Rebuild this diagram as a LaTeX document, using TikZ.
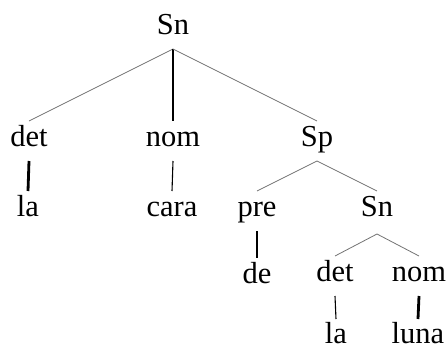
\documentclass[tikz,border=0pt]{standalone}
\usepackage{fontspec}
\setmainfont{Liberation Serif}
\begin{document}
\begin{tikzpicture}[x=1pt,y=-1pt,
  cat/.style={anchor=base,inner sep=0pt,outer sep=0pt,
    text height=25pt,text depth=15pt,
    font=\fontsize{30.5}{36}\selectfont},
  leaf/.style={cat,text depth=0pt},
  branch/.style={draw=black!55,line width=0.8pt},
  stem/.style={draw=black,line width=1.1pt},
  boldstem/.style={draw=black,line width=2.8pt}]
\useasboundingbox (0,0) rectangle (448,351);
% root
\node[cat] (sn) at (173,34) {Sn};
% first level
\node[cat] (det1) at (29,146) {det};
\node[cat] (nom1) at (173,146) {nom};
\node[cat] (sp) at (317,146) {Sp};
% second level
\node[cat] (la1) at (28,216) {la};
\node[cat] (cara) at (172,216) {cara};
\node[cat] (pre) at (257,216) {pre};
\node[cat] (sn2) at (377,216) {Sn};
% third level
\node[cat] (de) at (257,283) {de};
\node[cat] (det2) at (335,281) {det};
\node[cat] (nom2) at (419,281) {nom};
% leaves
\node[leaf] (la2) at (336,343) {la};
\node[leaf] (luna) at (418,343) {luna};
% branches
\draw[branch] (sn.south) -- (det1.north);
\draw[stem,line width=1.5pt] (sn.south) -- (nom1.north);
\draw[branch] (sn.south) -- (sp.north);
\draw[boldstem] (det1.south) -- (la1.north);
\draw[stem] (nom1.south) -- (cara.north);
\draw[branch] (sp.south) -- (pre.north);
\draw[branch] (sp.south) -- (sn2.north);
\draw[boldstem] (pre.south) -- (de.north);
\draw[branch] ([yshift=-3pt]sn2.south) -- (det2.north);
\draw[branch] ([yshift=-3pt]sn2.south) -- (nom2.north);
\draw[stem] (det2.south) -- ([yshift=-1pt]la2.north);
\draw[boldstem] (nom2.south) -- ([yshift=-1pt]luna.north);
\end{tikzpicture}
\end{document}
